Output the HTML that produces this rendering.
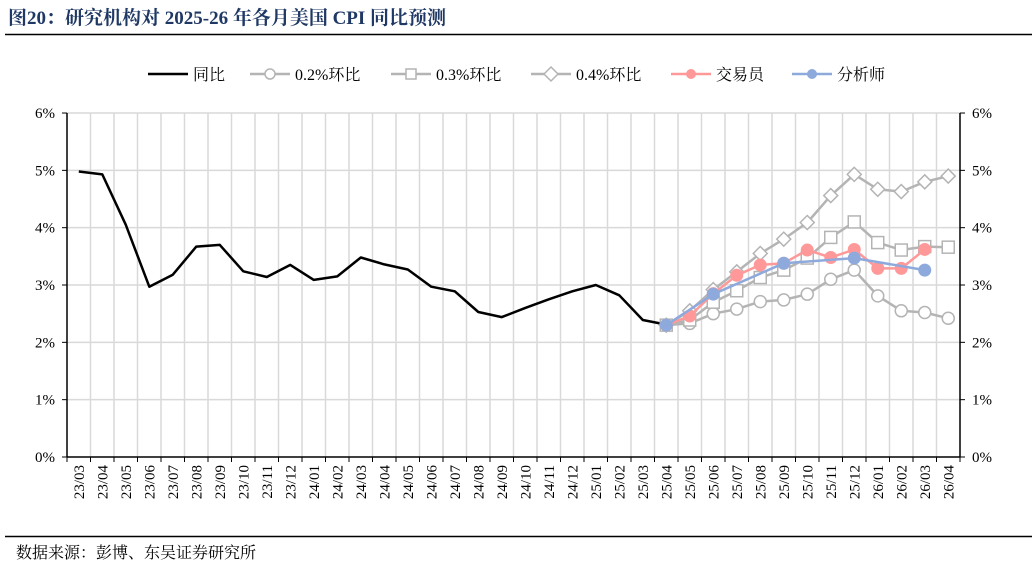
<!DOCTYPE html>
<html><head><meta charset="utf-8">
<style>
html,body{margin:0;padding:0;background:#fff;}
svg{display:block;}
text{font-family:"Liberation Serif","Noto Serif CJK SC",serif;}
</style></head>
<body>
<svg id="s" width="1032" height="568" xmlns="http://www.w3.org/2000/svg"></svg>
<script>
const s=document.getElementById('s');
let h='';
h+='<text x="8" y="24" font-size="19" font-weight="bold" fill="#1f3864">图20：研究机构对 2025-26 年各月美国 CPI 同比预测</text>';
h+='<line x1="5" y1="34.5" x2="1032" y2="34.5" stroke="#000" stroke-width="1.5"/>';
h+='<line x1="5" y1="536.5" x2="1032" y2="536.5" stroke="#000" stroke-width="1.5"/>';
h+='<text x="16" y="558" font-size="16" fill="#000">数据来源：彭博、东吴证券研究所</text>';
const L=67,R=960,Y0=457,K=57.33,W=(R-L)/38;
const X=i=>L+W*(i+0.5), Y=v=>Y0-v*K;
// grid
for(let v=1;v<=6;v++)h+=`<line x1="${L}" x2="${R}" y1="${Y(v)}" y2="${Y(v)}" stroke="#d9d9d9" stroke-width="1.5"/>`;
for(let i=1;i<38;i++)h+=`<line x1="${L+W*i}" x2="${L+W*i}" y1="${Y(6)}" y2="${Y0}" stroke="#d9d9d9" stroke-width="1.5"/>`;
// axes
h+=`<line x1="${L}" x2="${L}" y1="${Y(6)}" y2="${Y0}" stroke="#000" stroke-width="1.5"/>`;
h+=`<line x1="${R}" x2="${R}" y1="${Y(6)}" y2="${Y0}" stroke="#000" stroke-width="1.5"/>`;
h+=`<line x1="${L}" x2="${R}" y1="${Y0}" y2="${Y0}" stroke="#000" stroke-width="1.5"/>`;
for(let v=0;v<=6;v++){
 h+=`<line x1="${L-5}" x2="${L}" y1="${Y(v)}" y2="${Y(v)}" stroke="#000"/>`;
 h+=`<line x1="${R}" x2="${R+5}" y1="${Y(v)}" y2="${Y(v)}" stroke="#000"/>`;
 h+=`<text x="${L-12}" y="${Y(v)+5}" font-size="15" text-anchor="end">${v}%</text>`;
 h+=`<text x="${R+12}" y="${Y(v)+5}" font-size="15">${v}%</text>`;
}
const labs=[];
for(let y=23;y<=26;y++)for(let m=1;m<=12;m++){if((y==23&&m<3)||(y==26&&m>4))continue;labs.push(y+'/'+String(m).padStart(2,'0'));}
for(let i=0;i<=38;i++)h+=`<line x1="${L+W*i}" x2="${L+W*i}" y1="${Y0}" y2="${Y0+5}" stroke="#000"/>`;
labs.forEach((t,i)=>{h+=`<text transform="translate(${X(i)+5},${Y0+8}) rotate(-90)" font-size="15" text-anchor="end">${t}</text>`;});
const blk=[4.98,4.93,4.05,2.97,3.18,3.67,3.70,3.24,3.14,3.35,3.09,3.15,3.48,3.36,3.27,2.97,2.89,2.53,2.44,2.6,2.75,2.89,3.0,2.82,2.39,2.31];
const p2=[2.30,2.33,2.50,2.58,2.71,2.74,2.84,3.10,3.26,2.81,2.55,2.52,2.42];
const p3=[2.30,2.39,2.70,2.90,3.13,3.26,3.47,3.83,4.10,3.74,3.61,3.67,3.66];
const p4=[2.30,2.55,2.92,3.23,3.55,3.80,4.09,4.56,4.93,4.67,4.63,4.80,4.90];
const tr=[2.30,2.46,2.85,3.17,3.35,3.38,3.61,3.48,3.62,3.29,3.29,3.62];
const an=[[25,2.30],[27,2.84],[30,3.38],[33,3.47],[36,3.26]];
const pl=(pts,c,w)=>`<polyline points="${pts.map(p=>X(p[0]).toFixed(1)+','+Y(p[1]).toFixed(1)).join(' ')}" fill="none" stroke="${c}" stroke-width="${w}" stroke-linejoin="round"/>`;
const mk=(t,x,y,c)=>{
 if(t=='o')return `<circle cx="${x}" cy="${y}" r="6" fill="#fff" stroke="${c}" stroke-width="1.5"/>`;
 if(t=='s')return `<rect x="${x-6}" y="${y-6}" width="12" height="12" fill="#fff" stroke="${c}" stroke-width="1.5"/>`;
 if(t=='d')return `<polygon points="${x},${y-7} ${x+7},${y} ${x},${y+7} ${x-7},${y}" fill="#fff" stroke="${c}" stroke-width="1.5"/>`;
 return `<circle cx="${x}" cy="${y}" r="6.5" fill="${c}"/>`;
};
const ser=(arr,t,c)=>{const pts=arr.map((v,i)=>[25+i,v]);h+=pl(pts,c,2.5);pts.forEach(p=>h+=mk(t,X(p[0]),Y(p[1]),c));};
h+=pl(blk.map((v,i)=>[i,v]),'#000',2.5);
ser(p2,'o','#b4b4b4');ser(p3,'s','#b4b4b4');ser(p4,'d','#b4b4b4');
ser(tr,'f','#ff9999');
h+=pl(an,'#8eaadc',2.5);an.forEach(p=>h+=mk('f',X(p[0]),Y(p[1]),'#8eaadc'));
// legend
const ly=74;
const leg=[[148,'同比','#000',null],[250,'0.2%环比','#b4b4b4','o'],[391,'0.3%环比','#b4b4b4','s'],[531,'0.4%环比','#b4b4b4','d'],[671,'交易员','#ff9999','f'],[792,'分析师','#8eaadc','f']];
leg.forEach(([x,t,c,m])=>{h+=`<line x1="${x}" x2="${x+40}" y1="${ly}" y2="${ly}" stroke="${c}" stroke-width="2.5"/>`;
 if(m){const sc=m=='f'?'':'';h+=mk(m,x+20,ly,c).replace(/r="6(\.5)?"/,'r="5"').replace('width="12" height="12"','width="10" height="10"').replace(`x="${x+14}" y="${ly-6}"`,`x="${x+15}" y="${ly-5}"`);}
 h+=`<text x="${x+45}" y="${ly+6}" font-size="16">${t}</text>`;});
s.innerHTML=h;
</script>
</body></html>
